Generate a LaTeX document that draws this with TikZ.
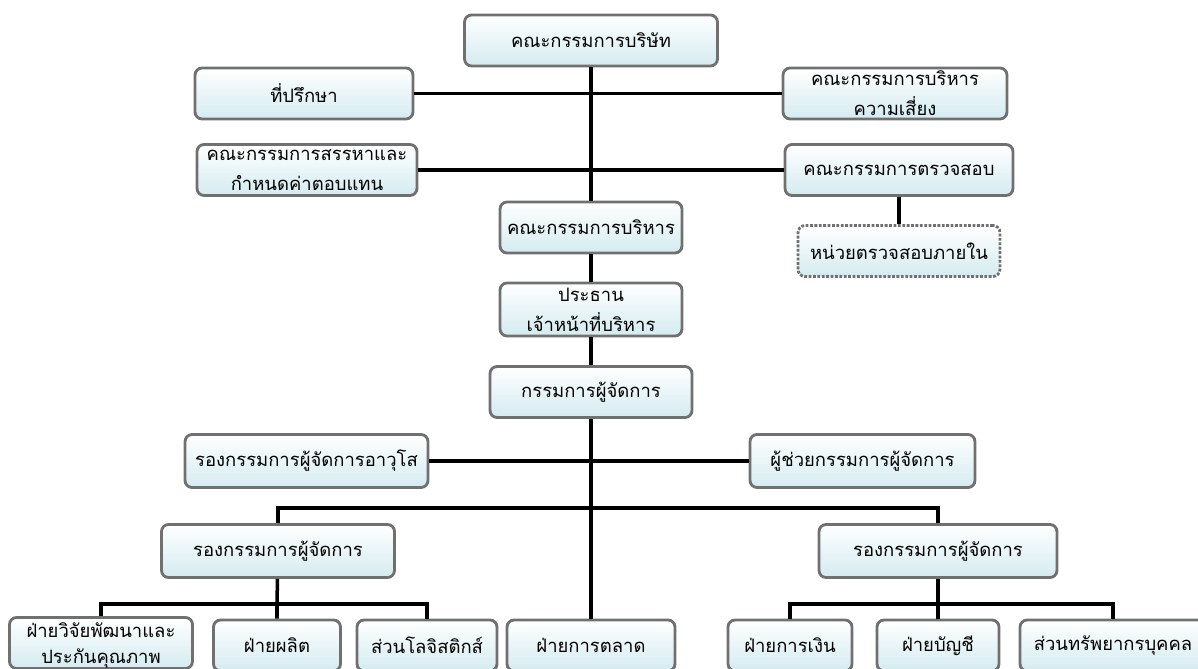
\documentclass[tikz,border=0pt]{standalone}
\usepackage{fontspec}
\newfontfamily\thaifont[Script=Thai]{Loma}
\usetikzlibrary{positioning}
\definecolor{boxline}{RGB}{112,112,112}
\definecolor{boxfill}{RGB}{212,235,240}

\begin{document}
\begin{tikzpicture}[
    x=0.02cm, y=-0.02cm,
    box/.style={rectangle, draw=boxline, line width=1.6pt, rounded corners=4pt, top color=white, bottom color=boxfill, minimum height=1.02cm, inner xsep=2pt, inner ysep=0pt, align=center, font=\thaifont\fontsize{10.5}{17}\selectfont},
    dashbox/.style={box, dash pattern=on 1.6pt off 0.9pt},
    link/.style={line width=2pt, black},
]
    \useasboundingbox (0,0) rectangle (1198,669);

    % Board and committees
    \node[box, minimum width=5.06cm] (board) at (591,40.5) {คณะกรรมการบริษัท};
    \node[box, minimum width=4.36cm] (advisor) at (304,93.5) {ที่ปรึกษา};
    \node[box, minimum width=4.48cm] (risk) at (895,93.5) {คณะกรรมการบริหาร\\ความเสี่ยง};
    \node[box, minimum width=4.4cm] (nomin) at (307,170) {คณะกรรมการสรรหาและ\\กำหนดค่าตอบแทน};
    \node[box, minimum width=4.56cm] (audit) at (899,170) {คณะกรรมการตรวจสอบ};
    \node[dashbox, minimum width=4.04cm] (internal) at (899,251) {หน่วยตรวจสอบภายใน};

    % Management line
    \node[box, minimum width=3.64cm] (exec) at (591,227.5) {คณะกรรมการบริหาร};
    \node[box, minimum width=3.64cm, minimum height=1.06cm] (ceo) at (591,309.5) {ประธาน\\เจ้าหน้าที่บริหาร};
    \node[box, minimum width=4.04cm] (md) at (591,392) {กรรมการผู้จัดการ};
    \node[box, minimum width=4.86cm, minimum height=1.06cm] (svp) at (306.5,461) {รองกรรมการผู้จัดการอาวุโส};
    \node[box, minimum width=4.5cm, minimum height=1.06cm] (asst) at (862.5,461) {ผู้ช่วยกรรมการผู้จัดการ};
    \node[box, minimum width=4.66cm, minimum height=1.06cm] (vpL) at (278,551) {รองกรรมการผู้จัดการ};
    \node[box, minimum width=4.76cm, minimum height=1.06cm] (vpR) at (938,551) {รองกรรมการผู้จัดการ};

    % Departments
    \node[box, minimum width=3.66cm, font=\thaifont\fontsize{10.5}{14.5}\selectfont, text depth=0pt] (rd) at (101,643) {ฝ่ายวิจัยพัฒนาและ\\ประกันคุณภาพ};
    \node[box, minimum width=2.54cm] (prod) at (277,645.5) {ฝ่ายผลิต};
    \node[box, minimum width=2.8cm] (logi) at (427,645.5) {ส่วนโลจิสติกส์};
    \node[box, minimum width=3.36cm] (mkt) at (591,645.5) {ฝ่ายการตลาด};
    \node[box, minimum width=2.48cm] (fin) at (790,645.5) {ฝ่ายการเงิน};
    \node[box, minimum width=2.44cm] (acc) at (938,645.5) {ฝ่ายบัญชี};
    \node[box, minimum width=3.72cm] (hr) at (1113,645.5) {ส่วนทรัพยากรบุคคล};

    % Connectors
    \draw[link] (board) -- (exec);
    \draw[link] (advisor) -- (risk);
    \draw[link] (nomin) -- (audit);
    \draw[link] (audit) -- (internal);
    \draw[link] (exec) -- (ceo);
    \draw[link] (ceo) -- (md);
    \draw[link] (md) -- (mkt);
    \draw[link] (svp) -- (asst);

    \coordinate (vpbus) at (591,508);
    \draw[link] (vpL.north) |- (vpbus) -| (vpR.north);

    \coordinate (lbus) at (277,604);
    \draw[link] (vpL) -- (lbus) -- (prod);
    \draw[link] (rd.north) |- (lbus) -| (logi.north);

    \coordinate (rbus) at (938,604);
    \draw[link] (vpR) -- (rbus) -- (acc);
    \draw[link] (fin.north) |- (rbus) -| (hr.north);
\end{tikzpicture}
\end{document}
